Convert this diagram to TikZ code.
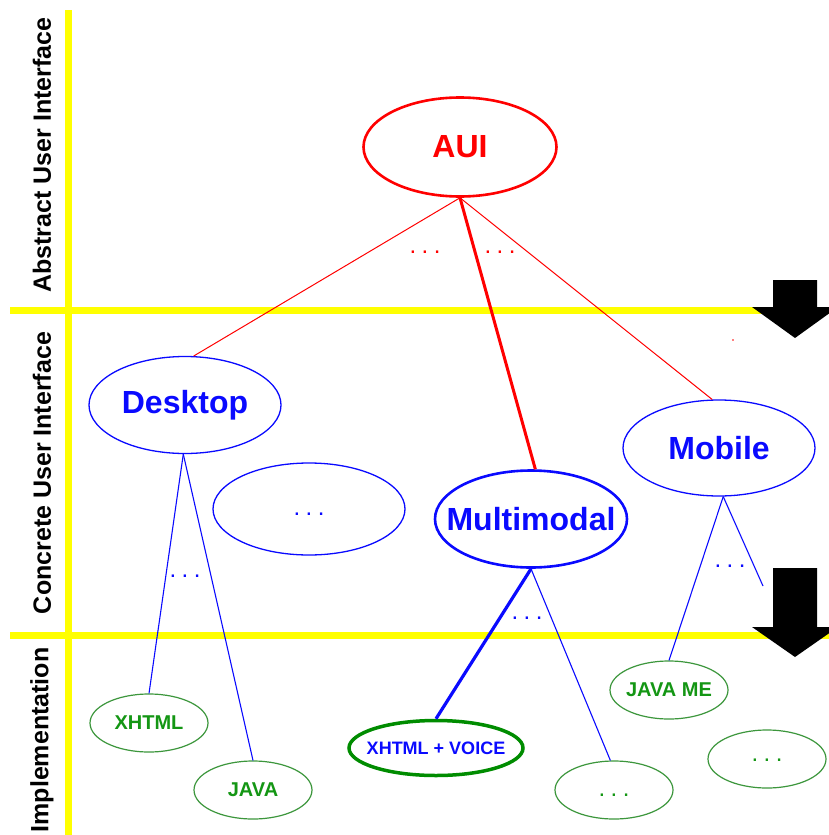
\documentclass[tikz,border=0pt]{standalone}
\usepackage{fontspec}
\setmainfont{Liberation Sans}
\usetikzlibrary{shapes.geometric}
\definecolor{cred}{RGB}{255,0,0}
\definecolor{cblue}{RGB}{10,10,255}
\definecolor{cgtext}{RGB}{20,150,20}
\definecolor{cgline}{RGB}{60,150,60}
\definecolor{cgthick}{RGB}{0,140,0}
\definecolor{cyel}{RGB}{255,255,0}
\newcommand{\tdots}{.\kern5.5pt.\kern5.5pt.}
\newcommand{\zb}[1]{\makebox[0pt]{#1}}
\begin{document}
\begin{tikzpicture}[x=1pt,y=-1pt,
  ell/.style={ellipse, draw, inner sep=0pt, font=\bfseries},
  big/.style={ell, minimum width=192pt, minimum height=97pt, font=\fontsize{32}{38}\selectfont\bfseries},
  blueell/.style={big, draw=cblue, text=cblue, line width=1.3pt},
  small/.style={ell, draw=cgline, text=cgtext, line width=1.2pt, minimum width=118pt, minimum height=58pt, font=\fontsize{20}{24}\selectfont\bfseries},
  lbl/.style={rotate=90, font=\fontsize{25}{30}\selectfont\bfseries, inner sep=0pt},
  dots/.style={inner sep=0pt, font=\fontsize{24}{28}\selectfont},
  yel/.style={draw=cyel, line width=7pt},
  bluel/.style={draw=cblue, line width=1.1pt},
  redl/.style={draw=cred, line width=1pt}]
\useasboundingbox (0,0) rectangle (829,835);
\clip (0,0) rectangle (829,835);
% yellow separators
\draw[yel] (68,10) -- (68,835);
\draw[yel] (10,310.5) -- (829,310.5);
\draw[yel] (10,635) -- (829,635);
% left labels
\node[lbl] (labA) at (42,155) {Abstract User Interface};
\node[lbl] (labC) at (42,473) {Concrete User Interface};
\node[lbl] (labI) at (42,740) {Implementation};
% black arrows
\fill[black] (773,280) -- (817,280) -- (817,307) -- (838,307) -- (795,338) -- (752,307) -- (773,307) -- cycle;
\fill[black] (773,568) -- (817,568) -- (817,627) -- (838,627) -- (795,657) -- (752,627) -- (773,627) -- cycle;
% nodes
\node[big, draw=cred, text=cred, line width=2.6pt, minimum width=193pt, minimum height=99pt] (aui) at (460,147) {\zb{AUI}};
\node[blueell] (desk) at (185,405) {\zb{Desktop}};
\node[blueell, minimum height=92pt] (ccdots) at (309,509) {};
\node[dots, text=cblue] (ccd) at (309,514) {\tdots};
\node[big, draw=cblue, text=cblue, line width=2.6pt] (mm) at (531,519) {\zb{Multimodal}};
\node[blueell, minimum height=96pt] (mob) at (719,448) {\zb{Mobile}};
\node[small] (xhtml) at (149,723) {\zb{XHTML}};
\node[small] (java) at (253,790) {\zb{JAVA}};
\node[ell, draw=cgthick, text=cblue, line width=3.5pt, minimum width=174pt, minimum height=55pt, font=\fontsize{18}{22}\selectfont\bfseries] (xv) at (436,748) {\zb{XHTML + VOICE}};
\node[small] (mdots) at (614,790) {};
\node[dots, text=cgtext] (mdt) at (614,795) {\tdots};
\node[small] (javame) at (669,690) {\zb{JAVA ME}};
\node[small] (rdots) at (767,759) {};
\node[dots, text=cgtext] (rdt) at (767,760) {\tdots};
% dots between branches
\node[dots, text=cred] (d1) at (425,252) {\tdots};
\node[dots, text=cred] (d2) at (500,252) {\tdots};
\node[dots, text=cblue] (d3) at (185,576) {\tdots};
\node[dots, text=cblue] (d4) at (527,618) {\tdots};
\node[dots, text=cblue] (d5) at (730,566) {\tdots};
\coordinate (mobend) at (763,586);
% connectors
\draw[redl] (aui.south) -- (desk.80);
\draw[draw=cred, line width=3pt] (aui.south) -- (mm.85);
\draw[redl] (aui.south) -- (mob.98);
\draw[bluel] (desk.268) -- (xhtml.north);
\draw[bluel] (desk.268) -- (java.north);
\draw[draw=cblue, line width=3.2pt] (mm.south) -- (xv.north);
\draw[bluel] (mm.south) -- (mdots.97);
\draw[bluel] (mob.275) -- (javame.north);
\draw[bluel] (mob.275) -- (mobend);
\fill[cred] (733,340) circle (0.8);
\end{tikzpicture}
\end{document}
